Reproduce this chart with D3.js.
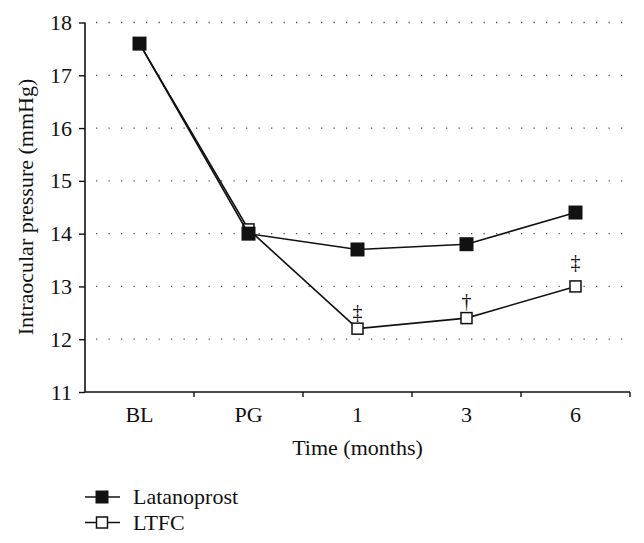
<!DOCTYPE html>
<html><head><meta charset="utf-8">
<script src="https://cdn.jsdelivr.net/npm/d3@7/dist/d3.min.js"></script>
<style>body{margin:0;background:#fff}svg{display:block}text{font-family:"Liberation Serif","DejaVu Serif",serif;fill:#111}</style>
</head><body>
<svg id="c" width="644" height="543"></svg>
<script>
const categories = ["BL", "PG", "1", "3", "6"];
const latanoprost = [17.6, 14.0, 13.7, 13.8, 14.4];
const ltfc = [17.6, 14.08, 12.2, 12.4, 13.0];
const ltfcMarks = ["", "", "‡", "†", "‡"];
const yTicks = [11, 12, 13, 14, 15, 16, 17, 18];
const seriesNames = ["Latanoprost", "LTFC"];

(function () {
const svg = d3.select("#c");
const mLeft = 85, mRight = 630, mTop = 22.5, mBottom = 392;
const x = d3.scaleBand().domain(categories).range([mLeft, mRight]);
const y = d3.scaleLinear().domain([11, 18]).range([mBottom, mTop]);
const ink = "#111";
const serif = "'Liberation Serif', 'DejaVu Serif', serif";

// gridlines
svg.append("g").selectAll("line").data(yTicks.filter(t => t > 11)).join("line")
  .attr("x1", mLeft + 11).attr("x2", 624)
  .attr("y1", d => y(d)).attr("y2", d => y(d))
  .attr("stroke", "#555").attr("stroke-width", 1.3)
  .attr("stroke-dasharray", "1.3,11.2");

// y axis
const ya = svg.append("g").attr("transform", `translate(${mLeft},0)`)
  .call(d3.axisLeft(y).tickValues(yTicks).tickSize(6).tickPadding(7).tickFormat(d3.format("d")))
  .attr("font-family", serif).attr("font-size", 22);
ya.select(".domain").attr("stroke", ink).attr("stroke-width", 1.6).attr("d", `M0,${mBottom}V${mTop}`);
ya.selectAll(".tick line").attr("stroke", ink).attr("stroke-width", 1.4);
ya.selectAll(".tick text").attr("fill", ink);

// x axis
const xa = svg.append("g").attr("transform", `translate(0,${mBottom})`)
  .call(d3.axisBottom(x).tickSize(0).tickPadding(0))
  .attr("font-family", serif).attr("font-size", 22);
xa.select(".domain").attr("stroke", ink).attr("stroke-width", 1.6).attr("d", `M${mLeft},0H${mRight}`);
xa.selectAll(".tick text").attr("fill", ink).attr("dy", null).attr("y", 30);
xa.append("g").selectAll("line").data(categories.map((c, i) => i + 1)).join("line")
  .attr("x1", i => mLeft + i * x.step()).attr("x2", i => mLeft + i * x.step())
  .attr("y1", 0).attr("y2", 5).attr("stroke", ink).attr("stroke-width", 1.4);

// axis titles
svg.append("text").attr("x", (mLeft + mRight) / 2).attr("y", 455)
  .attr("text-anchor", "middle").style("font-size", "22px").text("Time (months)");
svg.append("text").attr("transform", "translate(33,207) rotate(-90)")
  .attr("text-anchor", "middle").style("font-size", "22px").text("Intraocular pressure (mmHg)");

const line = d3.line().x((d, i) => x(categories[i]) + x.bandwidth() / 2).y(d => y(d));
const cx = i => x(categories[i]) + x.bandwidth() / 2;

// LTFC
svg.append("path").attr("d", line(ltfc)).attr("fill", "none").attr("stroke", ink).attr("stroke-width", 1.6);
svg.append("g").selectAll("rect").data(ltfc).join("rect")
  .attr("x", (d, i) => cx(i) - 5.5).attr("y", d => y(d) - 5.5)
  .attr("width", 11).attr("height", 11).attr("fill", "#fff").attr("stroke", ink).attr("stroke-width", 1.5);
const markOff = [0, 0, 17, 17, 24];
svg.append("g").selectAll("text").data(ltfc).join("text")
  .attr("x", (d, i) => cx(i)).attr("y", (d, i) => y(d) - markOff[i] + 7)
  .attr("text-anchor", "middle").style("font-size", "20px")
  .text((d, i) => ltfcMarks[i]);

// Latanoprost
svg.append("path").attr("d", line(latanoprost)).attr("fill", "none").attr("stroke", ink).attr("stroke-width", 1.6);
svg.append("g").selectAll("rect").data(latanoprost).join("rect")
  .attr("x", (d, i) => cx(i) - 7).attr("y", d => y(d) - 7)
  .attr("width", 14).attr("height", 14).attr("fill", ink);

// legend
const lg = svg.append("g");
seriesNames.forEach((name, k) => {
  const ly = 497 + k * 25.5;
  lg.append("line").attr("x1", 85).attr("x2", 120).attr("y1", ly).attr("y2", ly)
    .attr("stroke", ink).attr("stroke-width", 1.6);
  if (k === 0) {
    lg.append("rect").attr("x", 102 - 6.5).attr("y", ly - 6.5).attr("width", 13).attr("height", 13).attr("fill", ink);
  } else {
    lg.append("rect").attr("x", 102 - 5.5).attr("y", ly - 5.5).attr("width", 11).attr("height", 11)
      .attr("fill", "#fff").attr("stroke", ink).attr("stroke-width", 1.5);
  }
  lg.append("text").attr("x", 133).attr("y", ly + 7).style("font-size", "22px").text(name);
});
})();
</script>
</body></html>
